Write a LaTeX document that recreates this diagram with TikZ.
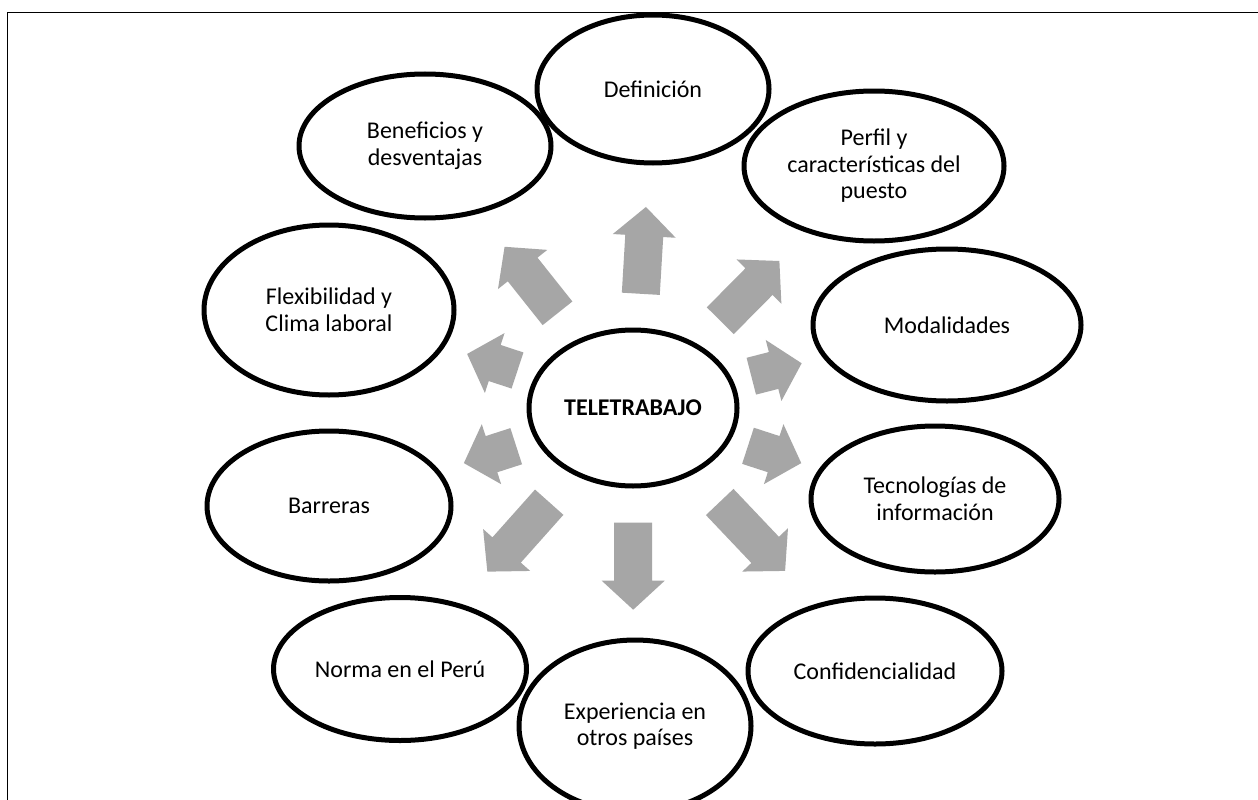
\documentclass[tikz,border=0pt]{standalone}
\usepackage{fontspec}
\setmainfont{Carlito}
\usetikzlibrary{shapes.geometric}
\definecolor{arrowgray}{HTML}{A6A6A6}
\newcommand{\blockarrow}[4]{%
  \fill[arrowfill, shift={(#1,#2)}, rotate=#3]
    (0,-19) -- ({#4-29},-19) -- ({#4-29},-31.5) -- (#4,0) --
    ({#4-29},31.5) -- ({#4-29},19) -- (0,19) -- cycle;}
\begin{document}
\begin{tikzpicture}[x=1pt,y=-1pt,
  bubble/.style={ellipse, draw=black, line width=5pt, inner sep=0pt,
    align=center, font=\fontsize{24}{26.5}\selectfont},
  arrowfill/.style={fill=arrowgray},
  framestyle/.style={draw=black, line width=1.5pt}]
\useasboundingbox (0,0) rectangle (1258,800);
\fill[white] (0,0) rectangle (1258,800);
% frame
\draw[framestyle] (7.5,800) -- (7.5,12.5) -- (1258,12.5);
% arrows
\blockarrow{640.8}{293.8}{86.6}{87}
\blockarrow{720.3}{320.7}{45.3}{84}
\blockarrow{751.3}{376.2}{14.4}{52}
\blockarrow{748}{445.8}{-18}{56}
\blockarrow{719.7}{502}{-46.5}{95}
\blockarrow{633.2}{522.7}{-90}{87}
\blockarrow{549.2}{502.2}{-131.7}{93}
\blockarrow{516.2}{446.2}{-162.1}{55}
\blockarrow{517.5}{370.5}{161.8}{53}
\blockarrow{557.5}{313.3}{128.5}{85}
% ellipses
\node[bubble, minimum width=208pt, minimum height=156pt] (tele) at (633,408) {\bfseries TELETRABAJO};
\node[bubble, minimum width=232pt, minimum height=148pt] (def) at (653,89) {Definición};
\node[bubble, minimum width=260pt, minimum height=150pt] (perfil) at (874,166) {Perfil y\\características del\\puesto};
\node[bubble, minimum width=268pt, minimum height=152pt] (moda) at (947,325) {Modalidades};
\node[bubble, minimum width=248pt, minimum height=146pt] (tec) at (935,499) {Tecnologías de\\información};
\node[bubble, minimum width=254pt, minimum height=146pt] (conf) at (875,671) {Confidencialidad};
\node[bubble, minimum width=232pt, minimum height=172pt] (exp) at (635,726) {Experiencia en\\otros países};
\node[bubble, minimum width=253pt, minimum height=143pt] (norma) at (400,669) {Norma en el Perú};
\node[bubble, minimum width=244pt, minimum height=150pt] (barr) at (329,506) {Barreras};
\node[bubble, minimum width=250pt, minimum height=170pt] (flex) at (329,310) {Flexibilidad y\\Clima laboral};
\node[bubble, minimum width=252pt, minimum height=144pt] (bene) at (425,146) {Beneficios y\\desventajas};
\end{tikzpicture}
\end{document}
